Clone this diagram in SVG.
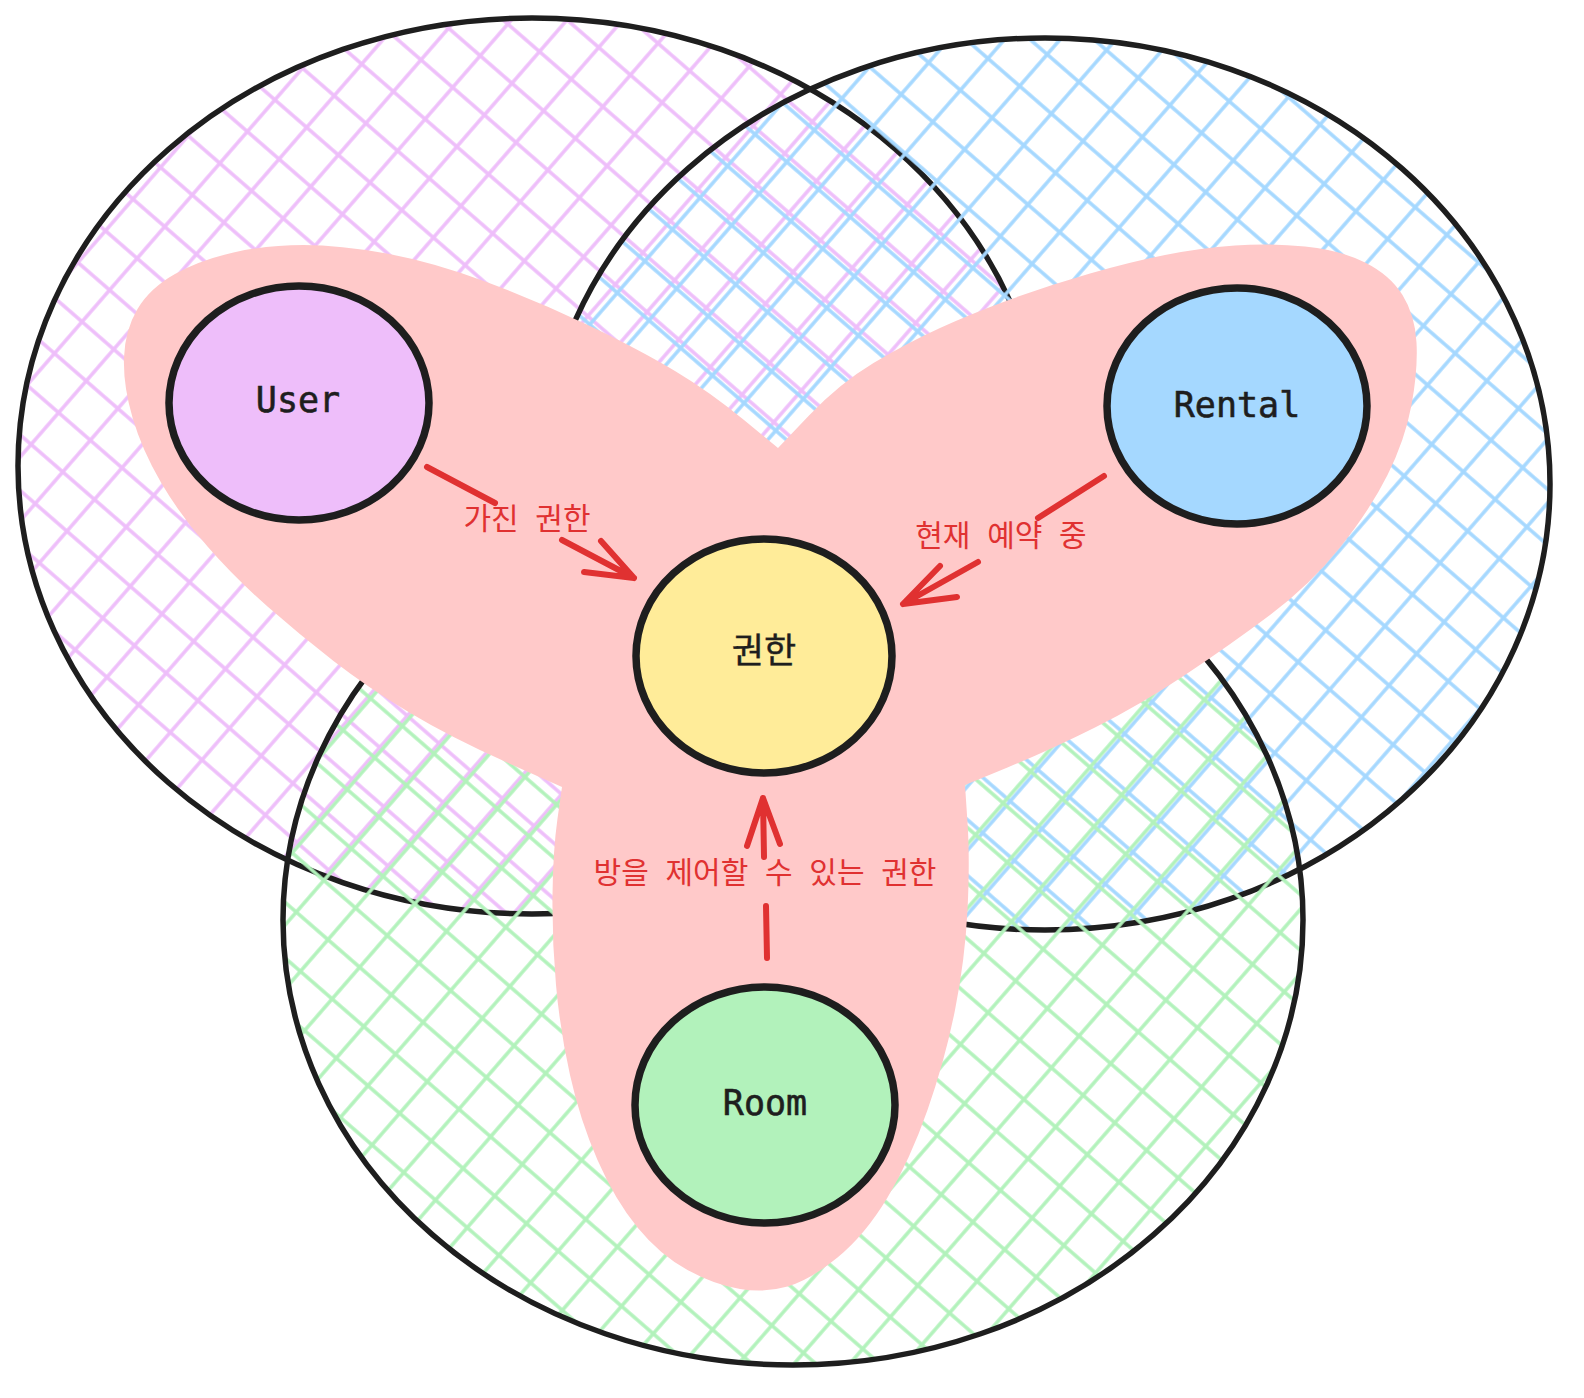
<svg xmlns="http://www.w3.org/2000/svg" width="1584" height="1398" viewBox="0 0 1584 1398">
<defs>
<pattern id="hP" width="42" height="42" patternUnits="userSpaceOnUse" patternTransform="rotate(41)"><path d="M0 21H42M21 0V42" stroke="#eebefa" stroke-width="3.5"/></pattern>
<pattern id="hB" width="42" height="42" patternUnits="userSpaceOnUse" patternTransform="rotate(41) translate(7 5)"><path d="M0 21H42M21 0V42" stroke="#a5d8ff" stroke-width="3.5"/></pattern>
<pattern id="hG" width="42" height="42" patternUnits="userSpaceOnUse" patternTransform="rotate(41) translate(3 11)"><path d="M0 21H42M21 0V42" stroke="#b2f2bb" stroke-width="3.5"/></pattern>
<style>
.big{stroke:#1e1e1e;stroke-width:5.5}
.node{stroke:#1e1e1e;stroke-width:7.5}
.nt{font-family:"DejaVu Sans Mono","Liberation Mono",monospace;font-size:35px;fill:#1e1e1e;stroke:#1e1e1e;stroke-width:0.6;text-anchor:middle}
.kt{font-family:"Noto Sans CJK KR","Noto Sans",sans-serif;font-size:35px;fill:#1e1e1e;stroke:#1e1e1e;stroke-width:0.4;text-anchor:middle}
.lbl{font-family:"Noto Sans CJK KR","Noto Sans",sans-serif;font-size:30px;fill:#e03131;text-anchor:middle;word-spacing:10px}
.ar{fill:none;stroke:#e03131;stroke-width:6;stroke-linecap:round;stroke-linejoin:round}
</style>
</defs>
<rect width="1584" height="1398" fill="#ffffff"/>
<g id="set-user"><ellipse cx="532" cy="466" rx="514" ry="448" fill="url(#hP)" class="big"/></g>
<g id="set-rental"><ellipse cx="1045" cy="484" rx="505" ry="446" fill="url(#hB)" class="big"/></g>
<g id="set-room"><ellipse cx="793" cy="920" rx="510" ry="445" fill="url(#hG)" class="big"/></g>
<g id="highlight">
<path fill="#ffc9c9" d="M778,448 L809,415.5 Q840,383 873.5,363 Q907,343 940,328 Q973,313 1011.5,299 Q1050,285 1090,273.5 Q1130,262 1165,255 Q1200,248 1235,245.5 Q1270,243 1305,246.5 Q1340,250 1365,262.5 Q1390,275 1402.5,295 Q1415,315 1416.5,342.5 Q1418,370 1411.5,405 Q1405,440 1387.5,475 Q1370,510 1340,547.5 Q1310,585 1270,615 Q1230,645 1185,675 Q1140,705 1095,727.5 Q1050,750 1007.5,767.5 L965,785 L967.5,822.5 Q970,860 967.5,910 Q965,960 955,1010 Q945,1060 927.5,1110 Q910,1160 887.5,1197.5 Q865,1235 837.5,1257.5 Q810,1280 787.5,1286.5 Q765,1293 740,1289 Q715,1285 687.5,1270 Q660,1255 637.5,1227.5 Q615,1200 597.5,1160 Q580,1120 570,1075 Q560,1030 556,985 Q552,940 552.5,895 Q553,850 557.5,818.5 L562,787 L506,762 Q450,737 408.5,712 Q367,687 333.5,661 Q300,635 267.5,606.5 Q235,578 207.5,546.5 Q180,515 161,482.5 Q142,450 132.5,417.5 Q123,385 124,357.5 Q125,330 137.5,309 Q150,288 175,274 Q200,260 233.5,252.5 Q267,245 303.5,245 Q340,245 386.5,253.5 Q433,262 486.5,282 Q540,302 590,326 Q640,350 675,371 Q710,392 744,420 Z"/>
</g>
<g id="connectors">
<path class="ar" d="M427,467 L495,503 M562,540 L634,578 M584,572 L634,578 L601,541"/>
<path class="ar" d="M1104,476 L1038,518 M978,562 L903,604 M940,566 L903,604 L957,597"/>
<path class="ar" d="M767,958 L766,906 M764,857 L763,798 M747,846 L763,798 L780,844"/>
<text class="lbl" x="527" y="529">가진 권한</text>
<text class="lbl" x="1001" y="546">현재 예약 중</text>
<text class="lbl" x="765" y="883">방을 제어할 수 있는 권한</text>
</g>
<g id="node-user"><ellipse cx="299" cy="403" rx="130" ry="117" fill="#eebefa" class="node"/><text class="nt" x="298" y="412">User</text></g>
<g id="node-rental"><ellipse cx="1237" cy="406" rx="130" ry="118" fill="#a5d8ff" class="node"/><text class="nt" x="1237" y="417">Rental</text></g>
<g id="node-auth"><ellipse cx="764" cy="656" rx="128" ry="117" fill="#ffec99" class="node"/><text class="kt" x="764" y="663">권한</text></g>
<g id="node-room"><ellipse cx="765" cy="1105" rx="130" ry="118" fill="#b2f2bb" class="node"/><text class="nt" x="765" y="1115">Room</text></g>
</svg>
